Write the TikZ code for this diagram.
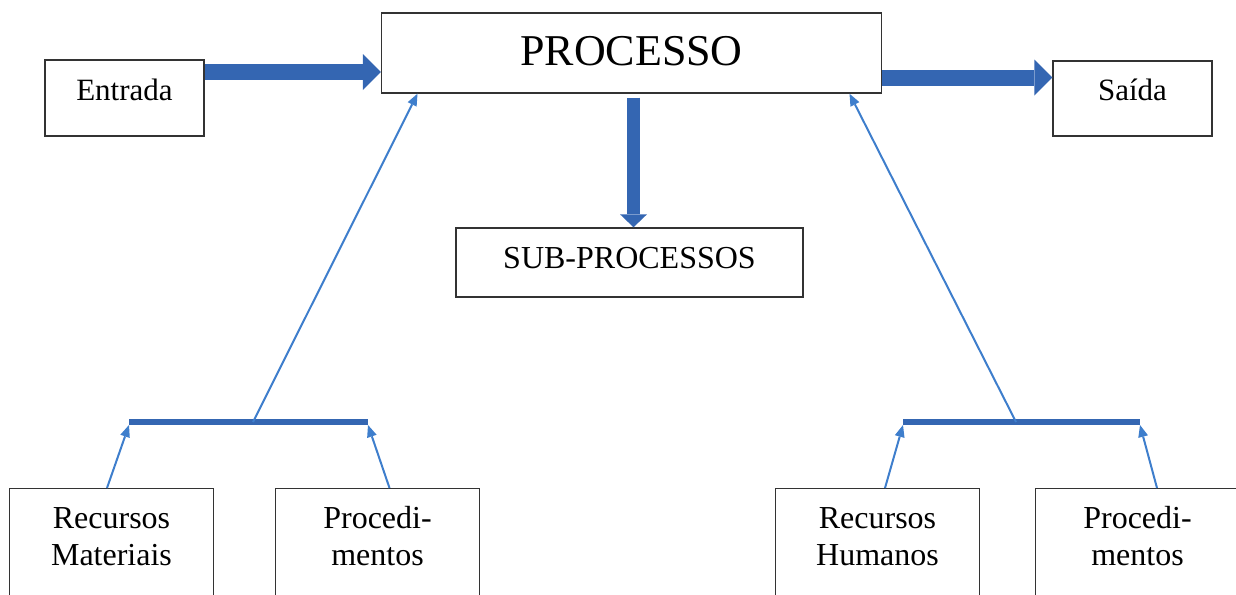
\documentclass[tikz,border=0pt]{standalone}
\usepackage{fontspec}
\setmainfont{Liberation Serif}
\usetikzlibrary{arrows.meta}
\definecolor{setaazul}{RGB}{52,102,178}
\definecolor{linhaazul}{RGB}{62,126,204}
\newcommand{\alto}{\rule{0pt}{20pt}}
\newcommand{\fundo}{\rule[-30pt]{0pt}{30pt}}

\begin{document}
\begin{tikzpicture}[x=0.5pt, y=-0.5pt,
    caixa/.style={draw=black!80, line width=0.7pt, inner sep=0pt, align=center},
    caixabaixo/.style={caixa, anchor=north, minimum width=102pt,
        font=\fontsize{16pt}{18.5pt}\selectfont},
    setagrossa/.style={line width=8pt, setaazul, -{Triangle[length=9pt, width=18pt, line width=0pt]}},
    setadesce/.style={line width=6.5pt, setaazul, -{Triangle[length=6.5pt, width=13.5pt, line width=0pt]}},
    setafina/.style={line width=1pt, linhaazul, -{Triangle[length=6pt, width=5pt, line width=0pt]}},
    barra/.style={line width=3pt, setaazul}]
    \useasboundingbox (0,0) rectangle (1236,594);
    \clip (0,0) rectangle (1236,594);

    % Caixas de cima
    \node[caixa, minimum width=79.5pt, text height=20pt, text depth=18pt, font=\fontsize{15.5pt}{18pt}\selectfont] (entrada) at (124.5,98) {Entrada};
    \node[caixa, minimum width=250pt, text height=26pt, text depth=14pt, font=\fontsize{22pt}{26pt}\selectfont] (procs) at (631.5,53) {PROCESSO};
    \node[caixa, minimum width=79.5pt, text height=19.5pt, text depth=18pt, font=\fontsize{15.5pt}{18pt}\selectfont] (saida) at (1132.5,98.5) {Saída};
    \node[caixa, minimum width=173.5pt, text height=20pt, text depth=14.5pt, font=\fontsize{16pt}{19pt}\selectfont] (sub) at (629.5,262.5) {SUB-PROCESSOS};

    % Caixas de baixo
    \node[caixabaixo] (recmat) at (111.5,488) {\alto Recursos\\Materiais\fundo};
    \node[caixabaixo] (procL) at (377.5,488) {\alto Procedi-\\mentos\fundo};
    \node[caixabaixo] (rechum) at (877.5,488) {\alto Recursos\\Humanos\fundo};
    \node[caixabaixo] (procR) at (1137.5,488) {\alto Procedi-\\mentos\fundo};

    % Barras
    \coordinate (barL1) at (129,422);
    \coordinate (barL2) at (368,422);
    \coordinate (barLm) at (253,422);
    \coordinate (barR1) at (903,422);
    \coordinate (barR2) at (1140,422);
    \coordinate (barRm) at (1016,422);
    \draw[barra] (barL1) -- (barL2);
    \draw[barra] (barR1) -- (barR2);

    % Setas grossas
    \draw[setagrossa] ([yshift=13pt]entrada.east) -- ([yshift=13pt]entrada.east -| procs.west);
    \draw[setagrossa] ([yshift=10.5pt]saida.west -| procs.east) -- ([yshift=10.5pt]saida.west);
    \draw[setadesce] ([xshift=1pt, yshift=-2pt]procs.south) -- ([xshift=1pt]procs.south |- sub.north);

    % Setas finas
    \draw[setafina] (barLm) -- ([xshift=-107pt]procs.south);
    \draw[setafina] (barRm) -- ([xshift=109pt]procs.south);
    \draw[setafina] ([xshift=-2.25pt]recmat.north) -- ([yshift=-1.5pt]barL1);
    \draw[setafina] ([xshift=6pt]procL.north) -- ([yshift=-1.5pt]barL2);
    \draw[setafina] ([xshift=3.75pt]rechum.north) -- ([yshift=-1.5pt]barR1);
    \draw[setafina] ([xshift=9.75pt]procR.north) -- ([yshift=-1.5pt]barR2);
\end{tikzpicture}
\end{document}
